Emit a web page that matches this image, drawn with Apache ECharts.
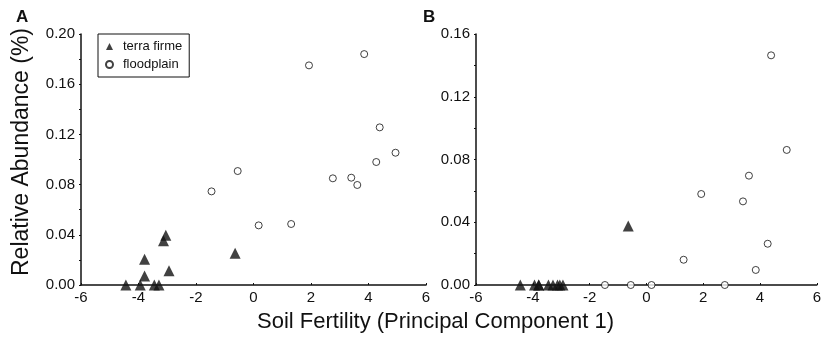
<!DOCTYPE html>
<html>
<head>
<meta charset="utf-8">
<script src="https://cdn.jsdelivr.net/npm/echarts@6/dist/echarts.min.js"></script>
<style>
  html, body { margin: 0; padding: 0; background: #fff; }
  #chart { width: 824px; height: 341px; }
</style>
</head>
<body>
<div id="chart"></div>
<script>
// soil fertility (PC1) of each site, shared by both panels
var terraX = [-4.44, -3.94, -3.79, -3.79, -3.45, -3.29, -3.13, -3.05, -2.94, -0.64];
var floodX = [-1.46, -0.55, 0.18, 1.31, 1.93, 2.76, 3.40, 3.61, 3.85, 4.27, 4.39, 4.94];

// panel A relative abundance
var terraA = [0, 0, 0.0205, 0.0072, 0, 0, 0.0353, 0.0396, 0.0114, 0.0252];
var floodA = [0.0746, 0.0908, 0.0475, 0.0486, 0.175, 0.085, 0.0855, 0.0797, 0.184, 0.098, 0.1256, 0.1054];

// panel B relative abundance
var terraB = [0, 0, 0, 0, 0, 0, 0, 0, 0, 0.0376];
var floodB = [0, 0, 0, 0.0161, 0.058, 0, 0.0533, 0.0697, 0.0096, 0.0263, 0.1464, 0.0861];

var xTicks = [-6, -4, -2, 0, 2, 4, 6];
var yMaxA = 0.20, yMaxB = 0.16, yStep = 0.04;

function pairs(xs, ys) {
    var out = [];
    for (var i = 0; i < xs.length; i++) out.push([xs[i], ys[i]]);
    return out;
}

var font = 'Liberation Sans, Arial, sans-serif';
var ink = '#111';

function xAxis(idx) {
    return {
        gridIndex: idx, type: 'value',
        min: xTicks[0], max: xTicks[xTicks.length - 1], interval: 2,
        splitLine: {show: false},
        axisLine: {onZero: false, lineStyle: {color: ink, width: 1.5}},
        axisTick: {show: true, inside: true, length: 2, lineStyle: {color: ink}},
        axisLabel: {color: ink, fontSize: 15, fontFamily: font, margin: 5}
    };
}
function yAxis(idx, max) {
    return {
        gridIndex: idx, type: 'value', min: 0, max: max, interval: yStep,
        splitLine: {show: false},
        axisLine: {show: true, onZero: false, lineStyle: {color: ink, width: 1.5}},
        axisTick: {show: true, length: 2, lineStyle: {color: ink}},
        minorTick: {show: true, splitNumber: 2, length: 2, lineStyle: {color: ink}},
        axisLabel: {color: ink, fontSize: 15, fontFamily: font, margin: 6,
            formatter: function (v) { return v.toFixed(2); }}
    };
}

var tri = {type: 'scatter', symbol: 'triangle', symbolSize: 11,
    itemStyle: {color: ink}};
var circ = {type: 'scatter', symbol: 'circle', symbolSize: 7,
    itemStyle: {color: '#fff', borderColor: ink, borderWidth: 1}};

var dom = document.getElementById('chart');
var myChart = echarts.init(dom, null, {renderer: 'canvas'});
var option = {
    animation: false,
    backgroundColor: '#fff',
    title: [
        {text: 'A', left: 11, top: 4, textStyle: {fontSize: 17, fontWeight: 'bold', color: ink, fontFamily: font}},
        {text: 'B', left: 418, top: 4, textStyle: {fontSize: 17, fontWeight: 'bold', color: ink, fontFamily: font}}
    ],
    grid: [
        {left: 81, top: 34, width: 345, height: 251},
        {left: 476, top: 34, width: 347, height: 251}
    ],
    legend: {
        left: 98, top: 34, orient: 'vertical',
        data: ['terra firme', 'floodplain'],
        borderColor: ink, borderWidth: 1, padding: [6, 7, 6, 7],
        itemGap: 5, itemWidth: 7, itemHeight: 7,
        textStyle: {color: ink, fontSize: 13, fontFamily: font, padding: [0, 0, 0, 5]}
    },
    xAxis: [xAxis(0), xAxis(1)],
    yAxis: [yAxis(0, yMaxA), yAxis(1, yMaxB)],
    graphic: [{
        type: 'text', left: 257, top: 311,
        style: {text: 'Soil Fertility (Principal Component 1)', fontSize: 22, fontFamily: font, fill: ink}
    }, {
        type: 'text', x: 22, y: 152, rotation: Math.PI / 2,
        style: {text: 'Relative Abundance (%)', fontSize: 23, fontFamily: font, fill: ink,
            align: 'center', verticalAlign: 'middle'}
    }],
    series: [
        Object.assign({name: 'terra firme', xAxisIndex: 0, yAxisIndex: 0, data: pairs(terraX, terraA)}, tri),
        Object.assign({name: 'floodplain', xAxisIndex: 0, yAxisIndex: 0, data: pairs(floodX, floodA)}, circ),
        Object.assign({name: 'terra firme', xAxisIndex: 1, yAxisIndex: 1, data: pairs(terraX, terraB)}, tri),
        Object.assign({name: 'floodplain', xAxisIndex: 1, yAxisIndex: 1, data: pairs(floodX, floodB)}, circ)
    ]
};
myChart.setOption(option);
</script>
</body>
</html>
